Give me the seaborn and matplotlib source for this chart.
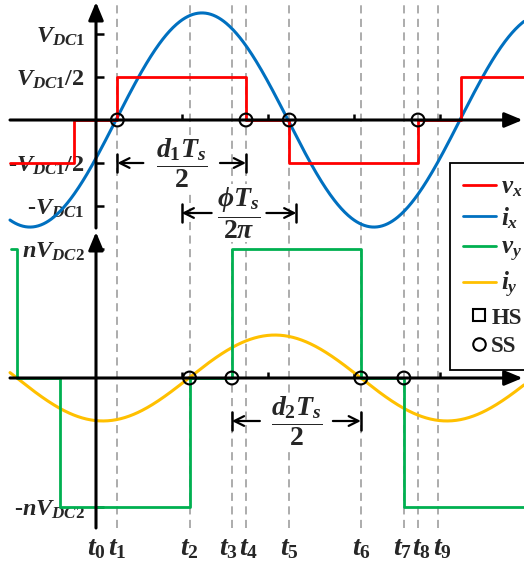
import numpy as np
import matplotlib
matplotlib.use("Agg")
import matplotlib.pyplot as plt
from matplotlib.lines import Line2D
import seaborn as sns

sns.set_style("white")
plt.rcParams["font.family"] = ["Liberation Serif", "DejaVu Serif"]
plt.rcParams["font.weight"] = "bold"
plt.rcParams["mathtext.fontset"] = "custom"
plt.rcParams["mathtext.it"] = "Liberation Serif:italic:bold"
plt.rcParams["mathtext.rm"] = "Liberation Serif:bold"
plt.rcParams["mathtext.bf"] = "Liberation Serif:bold"
plt.rcParams["mathtext.default"] = "it"

# ---- data (time in units of one switching period Ts) ----
t_names = ["$t_0$", "$t_1$", "$t_2$", "$t_3$", "$t_4$",
           "$t_5$", "$t_6$", "$t_7$", "$t_8$", "$t_9$"]
t_instants = [0.0, 0.062, 0.272, 0.395, 0.436, 0.562, 0.770, 0.895, 0.936, 0.995]

# primary bridge voltage v_x (per unit of V_DC1): edge times and held levels
vx_edges = [-0.25, -0.064, 0.062, 0.436, 0.562, 0.936, 1.062, 1.244]
vx_levels = [-0.5, 0.0, 0.5, 0.0, -0.5, 0.0, 0.5, 0.5]

# secondary bridge voltage v_y (per unit of nV_DC2)
vy_edges = [-0.247, -0.230, -0.105, 0.272, 0.395, 0.770, 0.895, 1.244]
vy_levels = [1.0, 0.0, -1.0, 0.0, 1.0, 0.0, -1.0, -1.0]

# inductor currents: peak value and rising zero crossing
ix_peak, ix_zero = 1.245, 0.058
iy_peak, iy_zero = 0.333, 0.270

# soft-switching instants on each bridge
ss_x = [0.062, 0.436, 0.562, 0.936]
ss_y = [0.272, 0.395, 0.770, 0.895]

top_ticks = [-1.0, -0.5, 0.5, 1.0]
top_tick_labels = ["-$V_{DC1}$", "-$V_{DC1}$/2", "$V_{DC1}$/2", "$V_{DC1}$"]
bot_ticks = [-1.0, 1.0]
bot_tick_labels = ["-$nV_{DC2}$", "$nV_{DC2}$"]
quarter_ticks = [0.25, 0.5, 0.75, 1.0]

RED, BLUE, GREEN, YELLOW = "#FF0000", "#0070C0", "#00B050", "#FFC000"
GRAY = "#A6A6A6"

# ---- figure geometry ----
W, H = 524, 567
PX = 344.0                    # pixels per period
x_lo, x_hi = -96 / PX, (W - 96) / PX
t_start = -0.25

fig = plt.figure(figsize=(W / 100, H / 100), dpi=100)

ax_bg = fig.add_axes([0, 0, 1, 1])
ax_bg.set_xlim(x_lo, x_hi)
ax_bg.set_ylim(0, 1)
ax_bg.axis("off")

ax_top = fig.add_axes([0, 1 - 240 / H, 1, 240 / H])
ax_bot = fig.add_axes([0, 0, 1, 337 / H])

# switching instants as dashed guides
ax_bg.vlines(t_instants[1:], 1 - 528 / H, 1, colors=GRAY,
             linestyles=(0, (4.5, 3.0)), lw=1.3, zorder=0)

# ---- waveforms ----
t_fine = np.linspace(t_start, x_hi, 600)
ix = ix_peak * np.sin(2 * np.pi * (t_fine - ix_zero))
iy = iy_peak * np.sin(2 * np.pi * (t_fine - iy_zero))

sns.lineplot(x=vx_edges, y=vx_levels, ax=ax_top, color=RED, lw=2,
             drawstyle="steps-post", estimator=None, sort=False, zorder=3)
sns.lineplot(x=t_fine, y=ix, ax=ax_top, color=BLUE, lw=2.2,
             estimator=None, sort=False, zorder=2)
sns.lineplot(x=vy_edges, y=vy_levels, ax=ax_bot, color=GREEN, lw=2,
             drawstyle="steps-post", estimator=None, sort=False, zorder=3)
sns.lineplot(x=t_fine, y=iy, ax=ax_bot, color=YELLOW, lw=2.2,
             estimator=None, sort=False, zorder=2)

for ax, pts in ((ax_top, ss_x), (ax_bot, ss_y)):
    sns.scatterplot(x=pts, y=[0.0] * len(pts), ax=ax, marker="o", s=85,
                    facecolor="none", edgecolor="k", linewidth=1.5, zorder=7)

ax_top.set_ylim(-120 / 86, 120 / 86)
ax_bot.set_ylim((378 - H) / 129, (378 - 230) / 129)

for ax in (ax_top, ax_bot):
    ax.set_xlim(x_lo, x_hi)
    ax.set_xlabel("")
    ax.set_ylabel("")
    ax.patch.set_alpha(0)
    for sp in ax.spines.values():
        sp.set_visible(False)
    ax.spines["left"].set_position(("data", 0))
    ax.spines["bottom"].set_position(("data", 0))
    ax.set_xticks(quarter_ticks)
    ax.tick_params(axis="x", direction="in", length=4.5, width=1.8,
                   bottom=True, labelbottom=False, color="k")
    ax.tick_params(axis="y", direction="in", length=6, width=1.8,
                   left=True, pad=8, labelsize=17.5, color="k")

ax_top.set_yticks(top_ticks, top_tick_labels)
ax_bot.set_yticks(bot_ticks, bot_tick_labels)

arrow_style = "-|>,head_length=0.6,head_width=0.25"


def axis_arrow(ax, start, end):
    ax.annotate("", xy=end, xytext=start,
                arrowprops=dict(arrowstyle=arrow_style, lw=2.2, color="k",
                                mutation_scale=18, shrinkA=0, shrinkB=0),
                annotation_clip=False, zorder=6)


axis_arrow(ax_top, (t_start, 0), (x_hi - 0.004, 0))
axis_arrow(ax_top, (0, (120 - 228) / 86), (0, (120 - 2) / 86))
axis_arrow(ax_bot, (t_start, 0), (x_hi - 0.004, 0))
axis_arrow(ax_bot, (0, (378 - 528) / 129), (0, (378 - 232) / 129))


# ---- dimension arrows ----
def dimension(ax, a, b, y, label, bar, gap, fs):
    mid = (a + b) / 2
    for end, start in ((a, a + gap), (b, b - gap)):
        ax.annotate("", xy=(end, y), xytext=(start, y),
                    arrowprops=dict(arrowstyle="->,head_length=0.5,head_width=0.25",
                                    lw=1.6, color="k", mutation_scale=14,
                                    shrinkA=0, shrinkB=0),
                    annotation_clip=False, zorder=6)
        ax.plot([end, end], [y - bar, y + bar], color="k", lw=1.8,
                clip_on=False, zorder=6)
    ax.text(mid, y, label, ha="center", va="center", fontsize=fs,
            bbox=dict(fc="white", ec="none", pad=1), zorder=5)


dimension(ax_top, t_instants[1], t_instants[4], -0.5,
          r"$\dfrac{d_1T_s}{2}$", 9 / 86, 26 / PX, 20)
center_x = (vx_edges[2] + vx_edges[3]) / 2
center_y = (vy_edges[4] + vy_edges[5]) / 2
dimension(ax_top, center_x, center_y, (120 - 213) / 86,
          r"$\dfrac{\phi T_s}{2\pi}$", 9 / 86, 30 / PX, 20)
dimension(ax_bot, t_instants[3], t_instants[6], (378 - 421) / 129,
          r"$\dfrac{d_2T_s}{2}$", 9 / 129, 28 / PX, 20)

# ---- instant labels ----
nudge = [0, 0, 0, -3, 3, 0, 1, -1, 3, 4]
for name, t, dx in zip(t_names, t_instants, nudge):
    ax_bot.text(t + dx / PX, (378 - 549) / 129, name, ha="center",
                va="center", fontsize=20, clip_on=False)

# ---- legend ----
handles = [Line2D([], [], color=RED, lw=2),
           Line2D([], [], color=BLUE, lw=2),
           Line2D([], [], color=GREEN, lw=2),
           Line2D([], [], color=YELLOW, lw=2),
           Line2D([], [], ls="none", marker="s", ms=9, mfc="none", mec="k", mew=1.5),
           Line2D([], [], ls="none", marker="o", ms=9, mfc="none", mec="k", mew=1.5)]
labels = ["$v_x$", "$i_x$", "$v_y$", "$i_y$", "HS", "SS"]
leg = fig.legend(handles, labels, loc="upper left",
                 bbox_to_anchor=(450 / W, 1 - 163 / H), fontsize=18,
                 frameon=True, fancybox=False, framealpha=1, edgecolor="k",
                 handlelength=1.35, handletextpad=0.2, labelspacing=0.24,
                 borderpad=0.5, borderaxespad=0)
leg.get_frame().set_linewidth(1.3)
for txt in leg.get_texts()[4:]:
    txt.set_fontsize(16.5)
    txt.set_x(-10)

fig.savefig("out.png", dpi=100)
